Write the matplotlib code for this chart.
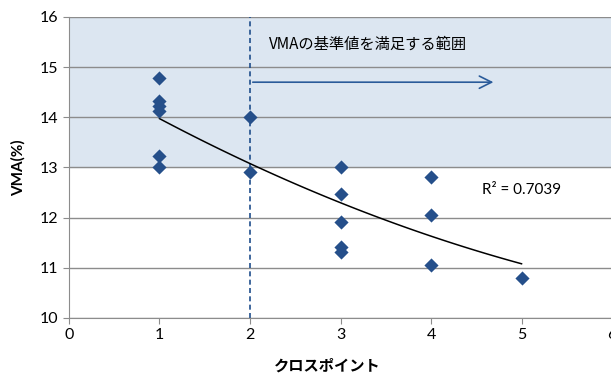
import numpy as np
import matplotlib
matplotlib.use("Agg")
from matplotlib import pyplot as plt

plt.rcParams['font.family'] = ['Lato', 'Noto Sans CJK JP', 'DejaVu Sans']

# クロスポイント数ごとのVMA測定値
cross_points = [1, 1, 1, 1, 1, 1, 2, 2, 3, 3, 3, 3, 3, 4, 4, 4, 5]
vma = [14.78, 14.33, 14.22, 14.12, 13.23, 13.01, 14.0, 12.91,
       13.01, 12.48, 11.92, 11.42, 11.32, 12.82, 12.05, 11.05, 10.79]

vma_min = 13.0  # 基準値の下限
r2_label = "R² = 0.7039"

fig = plt.figure(figsize=(6.11, 3.73), dpi=100)
ax = fig.add_axes([0.1129, 0.1475, 0.8888, 0.807])

ax.set_xlim(0, 6)
ax.set_ylim(10, 16)

# 基準を満たす範囲の塗りつぶし
ax.axhspan(vma_min, 16, color='#dce6f1', zorder=0)
for yv in range(10, 17):
    ax.axhline(yv, color='#8c8c8c', lw=1.0, zorder=1)

ax.axvline(2, color='#1f4e8c', lw=1.2, ls=(0, (3, 2)), zorder=2)

# 2次の近似曲線
x = np.array(cross_points, dtype=float)
y = np.array(vma)
coef = np.polyfit(x, y, 2)
xs = np.linspace(1, 5, 100)
ax.plot(xs, np.polyval(coef, xs), color='black', lw=1.1, zorder=3)

ax.scatter(cross_points, vma, marker='D', s=52, color='#254f8a', zorder=4, linewidths=0)

ax.annotate('', xy=(4.72, 14.7), xytext=(2.0, 14.7),
            arrowprops=dict(arrowstyle='->', color='#2a5b9a', lw=1.2,
                            mutation_scale=22), zorder=3)
ax.text(2.21, 15.45, "VMAの基準値を満足する範囲", fontsize=11,
        family=['Noto Sans CJK JP', 'DejaVu Sans'], va='center', ha='left')
ax.text(4.56, 12.55, r2_label, fontsize=11, va='center', ha='left')

for s in ['top', 'right']:
    ax.spines[s].set_visible(False)
for s in ['left', 'bottom']:
    ax.spines[s].set_color('#8c8c8c')
ax.tick_params(colors='#8c8c8c', labelcolor='black', labelsize=11.5, length=4, direction='out')
ax.set_xticks(range(0, 7))
ax.set_yticks(range(10, 17))

ax.set_xlabel("クロスポイント", fontsize=11, fontweight='bold',
              family=['Noto Sans CJK JP', 'DejaVu Sans'], labelpad=6)
ax.xaxis.set_label_coords(0.475, -0.13)
ax.set_ylabel("VMA(%)", fontsize=11, fontweight='bold', labelpad=10)

fig.savefig("out.png", dpi=100)
